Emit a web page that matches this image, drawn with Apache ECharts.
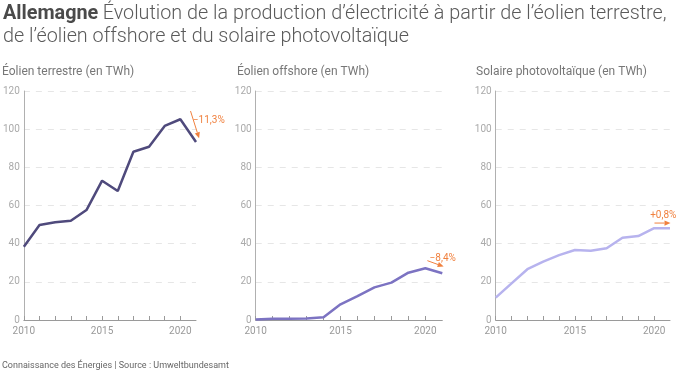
<!DOCTYPE html>
<html><head><meta charset="utf-8">
<script src="https://cdn.jsdelivr.net/npm/echarts@6/dist/echarts.min.js"></script>
<style>html,body{margin:0;padding:0;background:#fff}#c{width:700px;height:372px}</style>
</head><body><div id="c"></div>
<script>
const years = [2010,2011,2012,2013,2014,2015,2016,2017,2018,2019,2020,2021];
const onshore = [38.4,49.8,51.2,52.0,57.6,73.0,67.6,88.2,90.8,101.7,105.2,93.3];
const offshore = [0.2,0.6,0.7,0.8,1.4,8.2,12.5,17.1,19.6,24.8,27.1,24.5];
const solar = [11.7,19.2,26.6,30.6,34.0,36.7,36.3,37.6,43.1,44.0,48.1,48.1];
const panelTitles = ['Éolien terrestre (en TWh)','Éolien offshore (en TWh)','Solaire photovoltaïque (en TWh)'];
const changes = ['−11,3%','−8,4%','+0,8%'];
const colors = ['#4f4a7c','#7c73c2','#b7b3ee'];
const orange = '#f0813f';

const chart = echarts.init(document.getElementById('c'));
const grids = [
  {left:20.7, right:504, top:91, bottom:52},
  {left:255.7, right:257.7, top:91, bottom:52},
  {left:495.7, right:30, top:91, bottom:52}
];
const FONT = 'Roboto';
function xAxis(i){return {gridIndex:i,type:'value',min:2010,max:2021,interval:1,
  axisLine:{show:true,lineStyle:{color:'#9a9a9a',width:1}},
  axisTick:{show:true,inside:true,length:4,lineStyle:{color:'#9a9a9a'}},
  splitLine:{show:false},
  axisLabel:{color:'#999',fontSize:10,fontFamily:FONT,margin:6,showMaxLabel:false,
    formatter:v=> v%5===0 ? String(v) : ''}};}
function yAxis(i){return {gridIndex:i,type:'value',min:0,max:120,interval:20,
  axisLine:{show:true,lineStyle:{color:'#b0b0b0',width:1}},
  axisTick:{show:false},
  splitLine:{show:true,lineStyle:{color:'#e6e6e6',type:[6,6],width:1}},
  axisLabel:{color:'#aaa',fontSize:10,fontFamily:FONT,margin:4}};}

const datasets=[onshore,offshore,solar];
// annotation arrows in data units: [x1,y1,x2,y2,labelX,labelY]
const annot=[
  [2020.65,109.5,2021.2,95.2,2020.8,104.8],
  [2020.12,31.1,2021.08,28.0,2020.25,32.4],
  [2020.02,50.8,2021.03,50.8,2019.75,55.0]
];

const series=[];
for(let i=0;i<3;i++){
  series.push({type:'line',xAxisIndex:i,yAxisIndex:i,
    data:years.map((y,k)=>[y,datasets[i][k]]),
    showSymbol:false,symbol:'none',lineStyle:{color:colors[i],width:2.5},
    itemStyle:{color:colors[i]}});
  series.push({type:'custom',xAxisIndex:i,yAxisIndex:i,coordinateSystem:'cartesian2d',
    clip:false,silent:true,z:5,
    data:[annot[i]],
    renderItem:(function(idx){return function(params,api){
      const p1=api.coord([api.value(0),api.value(1)]);
      const p2=api.coord([api.value(2),api.value(3)]);
      const pl=api.coord([api.value(4),api.value(5)]);
      const dx=p2[0]-p1[0], dy=p2[1]-p1[1], L=Math.sqrt(dx*dx+dy*dy);
      const ux=dx/L, uy=dy/L, hl=6, hw=2.6;
      const b=[p2[0]-ux*hl,p2[1]-uy*hl];
      return {type:'group',children:[
        {type:'line',shape:{x1:p1[0],y1:p1[1],x2:b[0],y2:b[1]},style:{stroke:orange,lineWidth:1}},
        {type:'polygon',shape:{points:[p2,[b[0]-uy*hw,b[1]+ux*hw],[b[0]+uy*hw,b[1]-ux*hw]]},style:{fill:orange}},
        {type:'text',x:pl[0],y:pl[1],style:{text:changes[idx],fill:orange,font:'10px '+FONT,
          align:'left',verticalAlign:'middle'}}
      ]};
    };})(i)
  });
}

chart.setOption({
  animation:false,
  textStyle:{fontFamily:FONT},
  title:[
    {left:3,top:3,padding:0,text:'{b|Allemagne} {r|Évolution de la production d’électricité à partir de l’éolien terrestre,}\n{r|de l’éolien offshore et du solaire photovoltaïque}',
     textStyle:{rich:{b:{fontSize:19.8,fontWeight:'bold',color:'#4a4a4a',fontFamily:FONT,lineHeight:23},
       r:{fontSize:19.8,fontWeight:300,color:'#5a5a5a',fontFamily:FONT,lineHeight:23}}}},
    {left:2,top:66,padding:0,text:panelTitles[0],textStyle:{fontSize:12,fontWeight:'normal',color:'#777',fontFamily:FONT}},
    {left:237,top:66,padding:0,text:panelTitles[1],textStyle:{fontSize:12,fontWeight:'normal',color:'#777',fontFamily:FONT}},
    {left:476,top:66,padding:0,text:panelTitles[2],textStyle:{fontSize:12,fontWeight:'normal',color:'#777',fontFamily:FONT}},
    {left:2,top:361,padding:0,text:'Connaissance des Énergies | Source : Umweltbundesamt',textStyle:{fontSize:9,fontWeight:'normal',color:'#666',fontFamily:FONT}}
  ],
  grid:grids,
  xAxis:[xAxis(0),xAxis(1),xAxis(2)],
  yAxis:[yAxis(0),yAxis(1),yAxis(2)],
  series:series
});
</script></body></html>
